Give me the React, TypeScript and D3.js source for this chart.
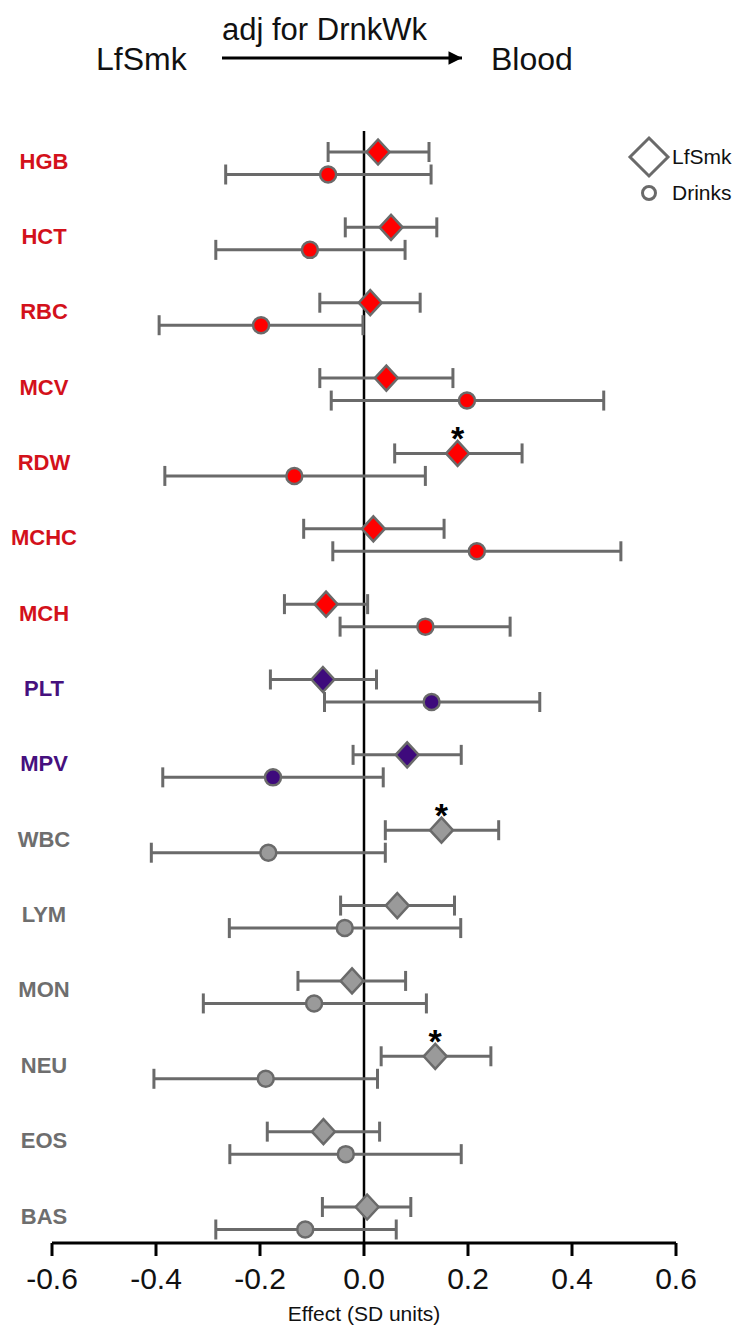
import React from "react";
import * as d3 from "d3";

const categories = ["HGB", "HCT", "RBC", "MCV", "RDW", "MCHC", "MCH", "PLT", "MPV", "WBC", "LYM", "MON", "NEU", "EOS", "BAS"];
const groups = ["red", "red", "red", "red", "red", "red", "red", "plt", "plt", "wbc", "wbc", "wbc", "wbc", "wbc", "wbc"];
const smkEst = [0.027, 0.052, 0.012, 0.043, 0.180, 0.018, -0.073, -0.079, 0.083, 0.149, 0.064, -0.023, 0.137, -0.078, 0.006];
const smkLo = [-0.069, -0.036, -0.085, -0.085, 0.059, -0.116, -0.153, -0.180, -0.021, 0.041, -0.045, -0.127, 0.033, -0.186, -0.080];
const smkHi = [0.125, 0.140, 0.108, 0.171, 0.304, 0.154, 0.007, 0.024, 0.187, 0.259, 0.174, 0.080, 0.244, 0.030, 0.090];
const drkEst = [-0.069, -0.104, -0.198, 0.198, -0.134, 0.217, 0.118, 0.130, -0.175, -0.184, -0.037, -0.096, -0.189, -0.035, -0.113];
const drkLo = [-0.266, -0.285, -0.394, -0.063, -0.383, -0.060, -0.046, -0.076, -0.387, -0.409, -0.259, -0.309, -0.404, -0.258, -0.285];
const drkHi = [0.129, 0.079, -0.002, 0.461, 0.118, 0.494, 0.281, 0.338, 0.037, 0.041, 0.186, 0.120, 0.026, 0.187, 0.062];
const significant = ["RDW", "WBC", "NEU"];
const xTicks = [-0.6, -0.4, -0.2, 0.0, 0.2, 0.4, 0.6];
const xTickLabels = ["-0.6", "-0.4", "-0.2", "0.0", "0.2", "0.4", "0.6"];

const labelColor: Record<string, string> = { red: "#d3111b", plt: "#46107e", wbc: "#6e6e6e" };
const fillColor: Record<string, string> = { red: "#ff0000", plt: "#3e0a7c", wbc: "#9a9a9a" };
const strokeCol = "#6a6a6a";
const font = "'Liberation Sans', Arial, Helvetica, sans-serif";

export default function App() {
  const W = 739, H = 1326;
  const x = d3.scaleLinear().domain([-0.6, 0.6]).range([52, 676]);
  const y = d3.scalePoint<string>().domain(categories).range([152, 1207]);
  const axisY = 1243;
  const dOff = 22.5;
  const cap = 10;
  const diamond = (cx: number, cy: number, rx: number, ry: number) =>
    `M${cx},${cy - ry}L${cx + rx},${cy}L${cx},${cy + ry}L${cx - rx},${cy}Z`;

  const errBar = (lo: number, hi: number, cy: number, key: string) => (
    <g key={key} stroke={strokeCol} strokeWidth={3} fill="none">
      <line x1={x(lo)} x2={x(hi)} y1={cy} y2={cy} />
      <line x1={x(lo)} x2={x(lo)} y1={cy - cap} y2={cy + cap} />
      <line x1={x(hi)} x2={x(hi)} y1={cy - cap} y2={cy + cap} />
    </g>
  );

  return (
    <svg width={W} height={H} style={{ position: "absolute", left: 0, top: 0, background: "#fff" }} fontFamily={font}>
      <defs>
        <marker id="arrowHead" viewBox="0 0 10 10" refX="10" refY="5" markerWidth="6.5" markerHeight="4.5" orient="auto" markerUnits="strokeWidth">
          <path d="M0,0L10,5L0,10Z" fill="#000" />
        </marker>
      </defs>
      {/* Title */}
      <text x={96} y={70} fontSize={32} fill="#111">LfSmk</text>
      <text x={222} y={40} fontSize={31} fill="#111">adj for DrnkWk</text>
      <line x1={222} x2={462} y1={58} y2={58} stroke="#000" strokeWidth={3} markerEnd="url(#arrowHead)" />
      <text x={491} y={70} fontSize={32} fill="#111">Blood</text>

      {/* Zero line */}
      <line x1={x(0)} x2={x(0)} y1={131} y2={axisY} stroke="#000" strokeWidth={2.5} />

      {/* Rows */}
      {categories.map((c, i) => {
        const cy = y(c) as number;
        const g = groups[i];
        return (
          <g key={c}>
            <text x={44} y={cy + 9} fontSize={22} fontWeight="bold" fill={labelColor[g]} textAnchor="middle" dominantBaseline="central">{c}</text>
            {errBar(smkLo[i], smkHi[i], cy, "s")}
            {errBar(drkLo[i], drkHi[i], cy + dOff, "d")}
            <path d={diamond(x(smkEst[i]), cy, 11.5, 12.5)} fill={fillColor[g]} stroke={strokeCol} strokeWidth={2.5} />
            <circle cx={x(drkEst[i])} cy={cy + dOff} r={8} fill={fillColor[g]} stroke={strokeCol} strokeWidth={2.5} />
            {significant.includes(c) && (
              <text x={x(smkEst[i])} y={cy - 3} fontSize={34} fontWeight="bold" textAnchor="middle" fill="#000">*</text>
            )}
          </g>
        );
      })}

      {/* Legend */}
      <path d={diamond(649, 157, 19, 19)} fill="#fff" stroke={strokeCol} strokeWidth={3} />
      <text x={672} y={164} fontSize={21} fill="#111">LfSmk</text>
      <circle cx={649} cy={193} r={6.5} fill="#fff" stroke={strokeCol} strokeWidth={3} />
      <text x={672} y={200} fontSize={21} fill="#111">Drinks</text>

      {/* X axis */}
      <line x1={x(-0.6)} x2={x(0.6)} y1={axisY} y2={axisY} stroke="#000" strokeWidth={3} />
      {xTicks.map((t, i) => (
        <g key={t}>
          <line x1={x(t)} x2={x(t)} y1={axisY} y2={axisY + 13} stroke="#000" strokeWidth={3} />
          <text x={x(t)} y={axisY + 46} fontSize={30} textAnchor="middle" fill="#111">{xTickLabels[i]}</text>
        </g>
      ))}
      <text x={x(0)} y={1321} fontSize={21} textAnchor="middle" fill="#111">Effect (SD units)</text>
    </svg>
  );
}
